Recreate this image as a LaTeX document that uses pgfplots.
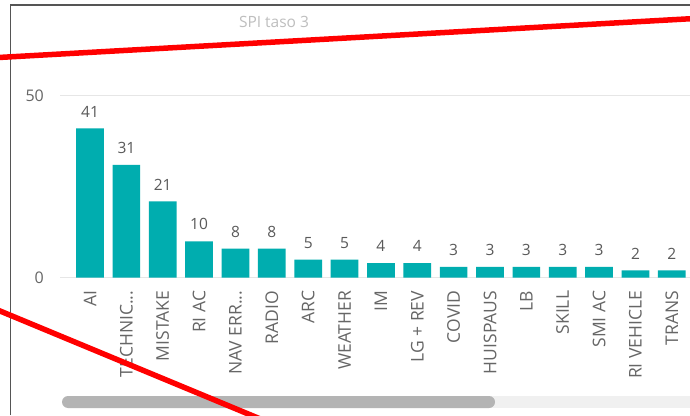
\documentclass[border=0pt]{standalone}
\usepackage{pgfplots}
\pgfplotsset{compat=1.18}
\usepackage{fontspec}
\setmainfont{Open Sans}
\definecolor{barteal}{HTML}{00ADAF}
\definecolor{lblgray}{HTML}{5A5A5A}
\definecolor{tickgray}{HTML}{666666}
\definecolor{titlegray}{HTML}{BEBEBE}
\definecolor{gridgray}{HTML}{E6E6E6}
\definecolor{trackgray}{HTML}{F0F0F0}
\definecolor{thumbgray}{HTML}{B4B4B4}
\definecolor{framegray}{HTML}{555555}
\begin{document}
\begin{tikzpicture}[x=1pt,y=1pt]
\clip (0,0) rectangle (690,415);
\useasboundingbox (0,0) rectangle (690,415);
\fill[white] (0,0) rectangle (690,415);
\begin{axis}[
  at={(60pt,137.3pt)}, anchor=south west,
  scale only axis, width=630pt, height=182pt,
  xmin=-0.825, xmax=16.5, ymin=0, ymax=50,
  axis line style={draw=none},
  major tick length=0pt,
  ytick={0,50},
  ymajorgrids, grid style={gridgray, line width=1pt},
  xtick={0,...,16},
  xticklabels={AI,{TECHNIC.{}.{}.},MISTAKE,RI AC,{NAV ERR.{}.{}.},RADIO,ARC,WEATHER,IM,LG + REV,COVID,HUISPAUS,LB,SKILL,SMI AC,RI VEHICLE,TRANS},
  xticklabel style={rotate=90, anchor=east, inner sep=0pt, font=\fontsize{17.5}{19}\selectfont, text=tickgray, xshift=-2pt},
  xticklabel shift=11pt,
  yticklabel style={font=\fontsize{16}{18}\selectfont, text=tickgray, inner sep=0pt, anchor=east},
  yticklabel shift=16pt,
  /pgf/number format/assume math mode=true,
  clip=false,
  nodes near coords,
  every node near coord/.append style={font=\fontsize{15.5}{17}\selectfont, text=lblgray, anchor=south, inner sep=0pt, yshift=11pt},
]
\addplot[ybar, bar width=27.7pt, fill=barteal, draw=none] coordinates {
(0,41) (1,31) (2,21) (3,10) (4,8) (5,8) (6,5) (7,5) (8,4) (9,4) (10,3) (11,3) (12,3) (13,3) (14,3) (15,2) (16,2)};
\end{axis}
\node[font=\fontsize{15.5}{17}\selectfont, text=titlegray] at (274,393) {SPI taso 3};
% scrollbar
\fill[trackgray] (480,7) rectangle (690,19);
\fill[thumbgray, rounded corners=6pt] (62,7) rectangle (495,19);
% frame
\draw[framegray, line width=1.6pt] (10.5,0) -- (10.5,410) -- (690,410);
% red annotation lines
\draw[red, line width=5.5pt] (-5,357.3) -- (700,396.8);
\draw[red, line width=5.5pt] (-5,106.1) -- (270,-8);
\end{tikzpicture}
\end{document}
